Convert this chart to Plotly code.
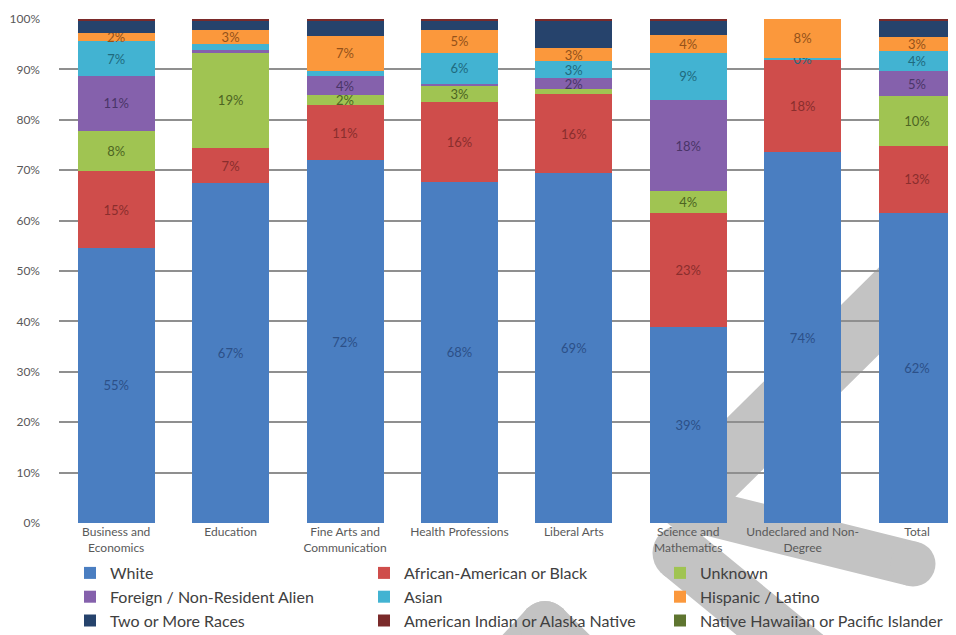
import math
import plotly.graph_objects as go

# Enrollment by race/ethnicity, share of each college (percent)
categories = ["Business and<br>Economics", "Education", "Fine Arts and<br>Communication",
              "Health Professions", "Liberal Arts", "Science and<br>Mathematics",
              "Undeclared and Non-<br>Degree", "Total"]

white = [54.6, 67.4, 72.0, 67.7, 69.4, 38.9, 73.6, 61.5]
black = [15.2, 7.0, 10.9, 15.8, 15.7, 22.6, 18.4, 13.4]
unknown = [8.0, 18.9, 2.0, 3.2, 1.0, 4.4, 0.0, 9.9]
foreign = [10.9, 0.5, 3.8, 0.4, 2.2, 18.0, 0.0, 4.8]
asian = [6.9, 1.2, 1.0, 6.2, 3.3, 9.4, 0.3, 4.0]
hispanic = [1.7, 2.8, 7.0, 4.6, 2.6, 3.6, 7.7, 2.9]
two_more = [2.5, 2.0, 3.1, 1.9, 5.4, 2.9, 0.0, 3.3]
am_indian = [0.2, 0.2, 0.2, 0.2, 0.4, 0.2, 0.0, 0.2]
hawaiian = [0.0, 0.0, 0.0, 0.0, 0.0, 0.0, 0.0, 0.0]

y_ticks = [0, 10, 20, 30, 40, 50, 60, 70, 80, 90, 100]

# name, values, bar colour, label colour, labelled?, legend column
series = [
    ("White", white, "#4a7ec1", "#2c5088", True, "legend"),
    ("African-American or Black", black, "#cf4d4b", "#8a2e2d", True, "legend2"),
    ("Unknown", unknown, "#a0c452", "#4d6422", True, "legend3"),
    ("Foreign / Non-Resident Alien", foreign, "#8561ac", "#4a3568", True, "legend"),
    ("Asian", asian, "#42b3d2", "#1f6a7e", True, "legend2"),
    ("Hispanic / Latino", hispanic, "#fb983c", "#94521a", True, "legend3"),
    ("Two or More Races", two_more, "#26436c", "#26436c", False, "legend"),
    ("American Indian or Alaska Native", am_indian, "#7a2a2a", "#7a2a2a", False, "legend2"),
    ("Native Hawaiian or Pacific Islander", hawaiian, "#5f7530", "#5f7530", False, "legend3"),
]
# the lone "0%" label shown in the Undeclared column
extra_labels = {("Asian", 6)}

W, H = 956, 635
L, R, T, B = 51, 0, 11, 120
pw, ph = W - L - R, H - T - B

fig = go.Figure()
for name, vals, color, tcolor, labelled, leg in series:
    text = None
    if labelled:
        text = [f"{v:.0f}%" if (v >= 1.5 or (name, i) in extra_labels) else ""
                for i, v in enumerate(vals)]
    fig.add_trace(go.Bar(
        x=list(range(len(categories))), y=vals, name=name, legend=leg,
        marker=dict(color=color, line=dict(width=0)),
        text=text, textposition="inside", insidetextanchor="middle", textangle=0,
        insidetextfont=dict(family="Lato", size=13, color=tcolor),
        hoverinfo="skip",
    ))


# grey scanner streaks in the background (pixel coords -> paper coords)
def px(x, y):
    return (x - L) / pw, (H - B - y) / ph


def band(p, q, w):
    dx, dy = q[0] - p[0], q[1] - p[1]
    n = math.hypot(dx, dy)
    nx, ny = -dy / n * w / 2, dx / n * w / 2
    pts = [(p[0] + nx, p[1] + ny), (q[0] + nx, q[1] + ny),
           (q[0] - nx, q[1] - ny), (p[0] - nx, p[1] - ny)]
    path = "M " + " L ".join(f"{px(*a)[0]:.4f},{px(*a)[1]:.4f}" for a in pts) + " Z"
    out = [dict(type="path", path=path, xref="paper", yref="paper")]
    for c in (p, q):
        x0, y0 = px(c[0] - w / 2, c[1] + w / 2)
        x1, y1 = px(c[0] + w / 2, c[1] - w / 2)
        out.append(dict(type="circle", x0=x0, y0=y0, x1=x1, y1=y1, xref="paper", yref="paper"))
    return out


streaks = []
streaks += band((680, 492), (975, 200), 62)
streaks += band((680, 500), (905, 556), 45)
streaks += band((672, 545), (800, 650), 55)
streaks += band((537, 618), (470, 690), 50)
streaks += band((537, 618), (610, 690), 50)
for s in streaks:
    s.update(layer="below", fillcolor="#c3c3c3", line=dict(width=0))

legend_style = dict(orientation="v", yref="container", y=1 - 548 / H, yanchor="top",
                    xanchor="left", traceorder="normal",
                    font=dict(family="Lato", size=16, color="#404040"),
                    bgcolor="rgba(0,0,0,0)")
fig.update_layout(
    width=W, height=H,
    margin=dict(l=L, r=R, t=T, b=B, autoexpand=False),
    barmode="stack", bargap=0.327,
    plot_bgcolor="white", paper_bgcolor="white",
    shapes=streaks,
    showlegend=True,
    legend=dict(x=(62 - L) / pw, **legend_style),
    legend2=dict(x=(356 - L) / pw, **legend_style),
    legend3=dict(x=(652 - L) / pw, **legend_style),
    uniformtext=dict(minsize=13, mode="show"),
)
fig.update_xaxes(tickvals=list(range(len(categories))), ticktext=categories,
                 range=[-0.5, -0.5 + pw / 114.4], showgrid=False, zeroline=False,
                 showline=False, ticks="", ticklabelstandoff=0,
                 tickfont=dict(family="Lato", size=12, color="#595959"))
fig.update_yaxes(range=[0, 100], tickvals=y_ticks, ticktext=[f"{v}%" for v in y_ticks],
                 showgrid=True, gridcolor="#8f8f8f", gridwidth=1.5, zeroline=False,
                 showline=False, ticks="", ticklabelstandoff=18,
                 tickfont=dict(family="Lato", size=12, color="#595959"))

fig.write_html("out.html")
